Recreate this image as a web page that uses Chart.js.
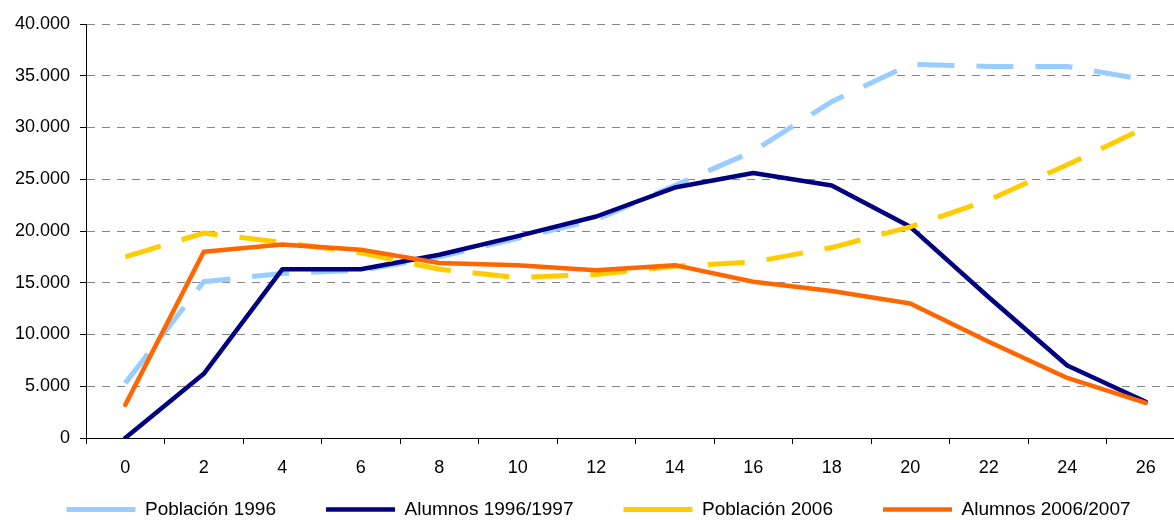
<!DOCTYPE html>
<html>
<head>
<meta charset="utf-8">
<script src="https://cdn.jsdelivr.net/npm/chart.js@4/dist/chart.umd.min.js"></script>
<style>
  html, body { margin: 0; padding: 0; background: #fff; overflow: hidden; }
  #wrap { position: relative; width: 1190px; height: 520px; }
</style>
</head>
<body>
<div id="wrap"><canvas id="chart"></canvas></div>
<script>
// Edad (años)
const ages = ['0', '2', '4', '6', '8', '10', '12', '14', '16', '18', '20', '22', '24', '26'];

// Series
const poblacion1996 = [5300, 15100, 15900, 16200, 17500, 19300, 21100, 24400, 27700, 32500, 36100, 35900, 35900, 34600];
const alumnos9697   = [0, 6200, 16300, 16300, 17700, 19500, 21400, 24200, 25600, 24400, 20400, 13600, 7000, 3500];
const poblacion2006 = [17500, 19800, 18900, 17900, 16300, 15500, 15800, 16600, 17000, 18400, 20400, 23000, 26400, 30000];
const alumnos0607   = [3200, 18000, 18700, 18200, 16900, 16700, 16200, 16700, 15100, 14200, 13000, 9300, 5800, 3400];

const yTicks = [0, 5000, 10000, 15000, 20000, 25000, 30000, 35000, 40000];

const fmt = v => String(v).replace(/\B(?=(\d{3})+(?!\d))/g, '.');

const FONT = "'Liberation Sans', Arial, sans-serif";

const data = {
  labels: ages,
  datasets: [
    {
      label: 'Población 1996',
      data: poblacion1996,
      borderColor: '#99CCFF',
      backgroundColor: '#99CCFF',
      borderWidth: 5,
      borderDash: [37, 22],
      borderCapStyle: 'butt',
      order: 4
    },
    {
      label: 'Alumnos 1996/1997',
      data: alumnos9697,
      borderColor: '#000080',
      backgroundColor: '#000080',
      borderWidth: 4.5,
      borderCapStyle: 'round',
      borderJoinStyle: 'round',
      order: 3
    },
    {
      label: 'Población 2006',
      data: poblacion2006,
      borderColor: '#FFCC00',
      backgroundColor: '#FFCC00',
      borderWidth: 5,
      borderDash: [37, 22],
      borderCapStyle: 'butt',
      order: 2
    },
    {
      label: 'Alumnos 2006/2007',
      data: alumnos0607,
      borderColor: '#FF6600',
      backgroundColor: '#FF6600',
      borderWidth: 4.5,
      borderCapStyle: 'round',
      borderJoinStyle: 'round',
      order: 1
    }
  ]
};

const LEGEND_PAD = 50;

// tick labels may spill outside their scale box, so don't clip them
const noClip = scale => { scale._computeLabelArea = () => undefined; };

new Chart(document.getElementById('chart').getContext('2d'), {
  type: 'line',
  data: data,
  options: {
    responsive: true,
    maintainAspectRatio: false,
    animation: false,
    layout: { padding: { left: 12, right: 5, top: 24, bottom: 0 } },
    elements: {
      point: { radius: 0, hoverRadius: 0 },
      line: { tension: 0, fill: false }
    },
    scales: {
      x: {
        type: 'category',
        offset: true,
        afterFit: scale => { noClip(scale); scale.height = 520 - (LEGEND_PAD + 20) - 438; },
        grid: {
          offset: true,
          drawOnChartArea: false,
          drawTicks: true,
          tickLength: 6,
          tickColor: '#000',
          tickWidth: 1
        },
        border: { display: true, color: '#000', width: 1 },
        ticks: {
          color: '#000',
          padding: 13,
          maxRotation: 0,
          autoSkip: false,
          font: { family: FONT, size: 18 }
        }
      },
      y: {
        min: 0,
        max: 40000,
        afterFit: scale => { noClip(scale); scale.width = 74; },
        afterBuildTicks: scale => { scale.ticks = yTicks.map(v => ({ value: v })); },
        grid: {
          color: '#858585',
          lineWidth: 1,
          drawTicks: true,
          tickLength: 6,
          tickColor: '#000',
          tickWidth: 1,
          tickBorderDash: []
        },
        border: { display: true, color: '#000', width: 1, dash: [8, 7] },
        ticks: {
          color: '#000',
          padding: 10,
          callback: v => fmt(v),
          font: { family: FONT, size: 18 }
        }
      }
    },
    plugins: {
      tooltip: { enabled: false },
      legend: {
        position: 'bottom',
        maxHeight: LEGEND_PAD + 20,
        labels: {
          usePointStyle: true,
          pointStyle: 'line',
          pointStyleWidth: 69,
          padding: LEGEND_PAD,
          color: '#000',
          font: { family: FONT, size: 19 },
          sort: (a, b) => a.datasetIndex - b.datasetIndex
        }
      }
    }
  }
});
</script>
</body>
</html>
